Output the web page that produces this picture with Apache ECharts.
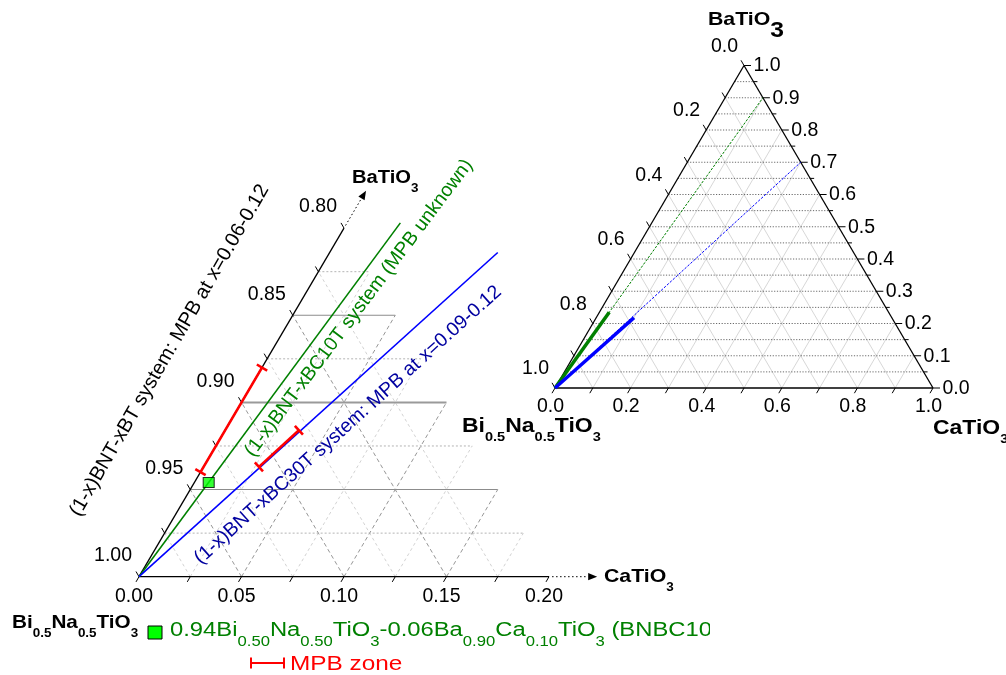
<!DOCTYPE html>
<html>
<head>
<meta charset="utf-8">
<title>BNT-BT-CT ternary</title>
<script src="https://cdn.jsdelivr.net/npm/echarts@6/dist/echarts.min.js"></script>
<style>
html,body{margin:0;padding:0;background:#fff;}
#chart{width:1006px;height:675px;}
</style>
</head>
<body>
<div id="chart"></div>
<script>
// ===== DATA: compositions are [CaTiO3, BaTiO3] mole fractions (BNT = 1 - sum) =====
// --- zoomed BNT-rich corner (left) ---
const zoomCaTicks   = [0.00, 0.05, 0.10, 0.15, 0.20];
const zoomCaLabels  = ['0.00', '0.05', '0.10', '0.15', '0.20'];
const zoomCaMinor   = [0.025, 0.075, 0.125, 0.175];
const zoomBntTicks  = [1.00, 0.95, 0.90, 0.85, 0.80];
const zoomBntLabels = ['1.00', '0.95', '0.90', '0.85', '0.80'];
const zoomBntMinor  = [0.975, 0.925, 0.875, 0.825];
const zoomSolidLevels  = [0.05, 0.15];
const zoomHeavyLevels  = [0.10];
const zoomDottedLevels = [0.025, 0.075, 0.125, 0.175];
const zoomDiagMajor    = [0.05, 0.10, 0.15];
const zoomDiagMinor    = [0.025, 0.075, 0.125, 0.175];
const zoomLimit = 0.20;
const bc10tLineZoom = [[0.000, 0.000], [0.026, 0.203]];
const bc30tLineZoom = [[0.000, 0.000], [0.082, 0.186]];
const btMpbZone     = [[0.000, 0.060], [0.000, 0.120]];   // x = 0.06-0.12
const bc30tMpbZone  = [[0.027, 0.063], [0.036, 0.084]];   // x = 0.09-0.12
const bnbc10tPoint  = [0.007, 0.054];                     // 0.94BNT-0.06BC10T
const caArrow = [[0.2015, 0.0], [0.2235, 0.0]];
const baArrow = [[0.0, 0.2015], [0.0, 0.2215]];

// --- full ternary (right) ---
const fullTenths      = [0.0, 0.1, 0.2, 0.3, 0.4, 0.5, 0.6, 0.7, 0.8, 0.9, 1.0];
const fullTenthLabels = ['0.0', '0.1', '0.2', '0.3', '0.4', '0.5', '0.6', '0.7', '0.8', '0.9', '1.0'];
const fullFifths      = [0.0, 0.2, 0.4, 0.6, 0.8, 1.0];
const fullFifthLabels = ['0.0', '0.2', '0.4', '0.6', '0.8', '1.0'];
const fullOddTwentieths = [0.05, 0.15, 0.25, 0.35, 0.45, 0.55, 0.65, 0.75, 0.85, 0.95];
const fullInnerTenths = [0.1, 0.2, 0.3, 0.4, 0.5, 0.6, 0.7, 0.8, 0.9];
const fullHorizLevels = [0.05, 0.1, 0.15, 0.2, 0.25, 0.3, 0.35, 0.4, 0.45, 0.5, 0.55, 0.6, 0.65, 0.7, 0.75, 0.8, 0.85, 0.9, 0.95];
const bc10tFullDashed = [[0.0, 0.0], [0.10, 0.90]];
const bc30tFullDashed = [[0.0, 0.0], [0.30, 0.70]];
const bc10tFullThick  = [[0.0, 0.0], [0.026, 0.235]];
const bc30tFullThick  = [[0.0, 0.0], [0.100, 0.218]];

// ===== helpers =====
const FONT = '"Liberation Sans", Arial, Helvetica, sans-serif';
const tern = p => [p[0] + p[1] / 2, p[1]];   // [CaTiO3, BaTiO3] -> cartesian (X, Y)

function segSeries(grid, list, style, z) {
  return {
    type: 'custom', coordinateSystem: 'cartesian2d', xAxisIndex: grid, yAxisIndex: grid,
    silent: true, clip: false, z: z || 2, animation: false,
    encode: { x: 0, y: 1 },
    data: list.map(s => tern(s[0]).concat(tern(s[1]))),
    renderItem(params, api) {
      const a = api.coord([api.value(0), api.value(1)]);
      const b = api.coord([api.value(2), api.value(3)]);
      return { type: 'line', shape: { x1: a[0], y1: a[1], x2: b[0], y2: b[1] },
               style: Object.assign({ stroke: '#000', lineWidth: 1, fill: null }, style) };
    }
  };
}
function tickSeries(grid, pts, dir, len, style) {
  return {
    type: 'custom', coordinateSystem: 'cartesian2d', xAxisIndex: grid, yAxisIndex: grid,
    silent: true, clip: false, z: 3, animation: false, encode: { x: 0, y: 1 },
    data: pts.map(tern),
    renderItem(params, api) {
      const a = api.coord([api.value(0), api.value(1)]);
      return { type: 'line', shape: { x1: a[0], y1: a[1], x2: a[0] + dir[0] * len, y2: a[1] + dir[1] * len },
               style: Object.assign({ stroke: '#000', lineWidth: 1, fill: null }, style) };
    }
  };
}
function labelSeries(grid, pts, texts, dx, dy, align, size) {
  return {
    type: 'custom', coordinateSystem: 'cartesian2d', xAxisIndex: grid, yAxisIndex: grid,
    silent: true, clip: false, z: 5, animation: false, encode: { x: 0, y: 1 },
    data: pts.map((p, i) => tern(p).concat([i])),
    renderItem(params, api) {
      const a = api.coord([api.value(0), api.value(1)]);
      return { type: 'text', x: a[0] + dx, y: a[1] + dy,
               style: { text: texts[api.value(2)], fill: '#000', fontSize: size, fontFamily: FONT,
                        align: align, verticalAlign: 'middle' } };
    }
  };
}
function barSeries(grid, list, color) {   // MPB segment with perpendicular end caps
  return {
    type: 'custom', coordinateSystem: 'cartesian2d', xAxisIndex: grid, yAxisIndex: grid,
    silent: true, clip: false, z: 8, animation: false, encode: { x: 0, y: 1 },
    data: list.map(s => tern(s[0]).concat(tern(s[1]))),
    renderItem(params, api) {
      const a = api.coord([api.value(0), api.value(1)]);
      const b = api.coord([api.value(2), api.value(3)]);
      const L = Math.hypot(b[0] - a[0], b[1] - a[1]);
      const px = -(b[1] - a[1]) / L * 6, py = (b[0] - a[0]) / L * 6;
      const st = { stroke: color, lineWidth: 2.6, fill: null };
      return { type: 'group', children: [
        { type: 'line', shape: { x1: a[0], y1: a[1], x2: b[0], y2: b[1] }, style: st },
        { type: 'line', shape: { x1: a[0] - px, y1: a[1] - py, x2: a[0] + px, y2: a[1] + py }, style: st },
        { type: 'line', shape: { x1: b[0] - px, y1: b[1] - py, x2: b[0] + px, y2: b[1] + py }, style: st }
      ] };
    }
  };
}
function arrowSeries(grid, list) {
  return {
    type: 'custom', coordinateSystem: 'cartesian2d', xAxisIndex: grid, yAxisIndex: grid,
    silent: true, clip: false, z: 6, animation: false, encode: { x: 0, y: 1 },
    data: list.map(s => tern(s[0]).concat(tern(s[1]))),
    renderItem(params, api) {
      const a = api.coord([api.value(0), api.value(1)]);
      const b = api.coord([api.value(2), api.value(3)]);
      const L = Math.hypot(b[0] - a[0], b[1] - a[1]);
      const ux = (b[0] - a[0]) / L, uy = (b[1] - a[1]) / L;
      const h = 9, w = 3.6;
      const bx = b[0] - ux * h, by = b[1] - uy * h;
      return { type: 'group', children: [
        { type: 'line', shape: { x1: a[0], y1: a[1], x2: bx, y2: by },
          style: { stroke: '#000', lineWidth: 1, lineDash: [1.5, 2.5], fill: null } },
        { type: 'polygon', shape: { points: [[b[0], b[1]], [bx - uy * w, by + ux * w], [bx + uy * w, by - ux * w]] },
          style: { fill: '#000' } }
      ] };
    }
  };
}
function chem(parts) {   // alternating main / subscript pieces
  return parts.map((p, i) => (i % 2 === 0 ? '{m|' : '{s|') + p + '}').join('');
}
function richStyle(mainSize, subSize, subDrop, color, bold, mainLH) {
  const w = bold ? 'bold' : 'normal';
  return {
    m: { fontSize: mainSize, fontWeight: w, fontFamily: FONT, fill: color, lineHeight: mainLH, verticalAlign: 'top' },
    s: { fontSize: subSize, fontWeight: w, fontFamily: FONT, fill: color, lineHeight: subSize + 2,
         verticalAlign: 'top', padding: [mainLH / 2 + subDrop - subSize / 2, 0, 0, 0] }
  };
}
function chemText(x, yCenter, parts, mainSize, subSize, subDrop, color, bold, sx) {
  const lh = Math.round(mainSize + 4);
  return { type: 'text', x: x, y: yCenter - lh / 2, scaleX: sx || 1, z: 20, silent: true,
           style: { text: chem(parts), rich: richStyle(mainSize, subSize, subDrop, color, bold, lh),
                    align: 'left', verticalAlign: 'top' } };
}
function rotText(cx, cy, deg, text, color, size) {
  return { type: 'text', x: cx, y: cy, rotation: deg * Math.PI / 180, z: 20, silent: true,
           style: { text: text, fill: color, fontSize: size, fontFamily: FONT, align: 'center', verticalAlign: 'middle' } };
}

// ===== derived geometry lists =====
const Z = zoomLimit;
const zHorizSolid  = zoomSolidLevels.map(v => [[0, v], [Z - v, v]]);
const zHorizHeavy  = zoomHeavyLevels.map(v => [[0, v], [Z - v, v]]);
const zHorizDotted = zoomDottedLevels.map(v => [[0, v], [Z - v, v]]);
const zDiagMajor = zoomDiagMajor.map(v => [[v, 0], [v, Z - v]]).concat(zoomDiagMajor.map(v => [[v, 0], [0, v]]));
const zDiagMinor = zoomDiagMinor.map(v => [[v, 0], [v, Z - v]]).concat(zoomDiagMinor.map(v => [[v, 0], [0, v]]));
const zEdges = [[[0, 0], [Z, 0]], [[0, 0], [0, Z]]];

const fHoriz = fullHorizLevels.map(v => [[0, v], [1 - v, v]]);
const fDiag = fullInnerTenths.map(v => [[v, 0], [v, 1 - v]]).concat(fullInnerTenths.map(v => [[v, 0], [0, v]]));
const fEdges = [[[0, 0], [1, 0]], [[1, 0], [0, 1]], [[0, 1], [0, 0]]];

const DL = [-0.5, 0.866];   // down-left (parallel to left edge, outward of bottom)
const UL = [-0.5, -0.866];  // up-left (parallel to right edge, outward of left)
const RT = [1, 0];

const series = [
  // ---- zoom plot grid ----
  segSeries(0, zDiagMinor, { stroke: '#c6c6c6', lineWidth: 0.8, lineDash: [3, 3] }, 1),
  segSeries(0, zDiagMajor, { stroke: '#8a8a8a', lineWidth: 0.9, lineDash: [4, 3] }, 1),
  segSeries(0, zHorizDotted, { stroke: '#b4b4b4', lineWidth: 1, lineDash: [2, 2] }, 1),
  segSeries(0, zHorizSolid, { stroke: '#8c8c8c', lineWidth: 1.1 }, 1),
  segSeries(0, zHorizHeavy, { stroke: '#9a9a9a', lineWidth: 2 }, 1),
  segSeries(0, zEdges, { stroke: '#000', lineWidth: 1.3 }, 3),
  tickSeries(0, zoomCaTicks.concat(zoomCaMinor).map(v => [v, 0]), DL, 6, {}),
  tickSeries(0, zoomBntTicks.concat(zoomBntMinor).map(v => [0, 1 - v]), UL, 6, {}),
  labelSeries(0, zoomCaTicks.map(v => [v, 0]), zoomCaLabels, -5, 20, 'center', 19.5),
  labelSeries(0, zoomBntTicks.map(v => [0, 1 - v]), zoomBntLabels, -7, -21, 'right', 19.5),
  arrowSeries(0, [caArrow, baArrow]),
  // ---- zoom plot data ----
  segSeries(0, [bc10tLineZoom], { stroke: '#008000', lineWidth: 1.6 }, 6),
  segSeries(0, [bc30tLineZoom], { stroke: '#0000ff', lineWidth: 1.6 }, 6),
  barSeries(0, [btMpbZone, bc30tMpbZone], '#ff0000'),
  {
    type: 'scatter', xAxisIndex: 0, yAxisIndex: 0, z: 10, silent: true, animation: false,
    symbol: 'rect', symbolSize: [11, 10],
    itemStyle: { color: '#00ff00', borderColor: '#000', borderWidth: 1 },
    data: [tern(bnbc10tPoint)]
  },
  // ---- full ternary grid ----
  segSeries(1, fDiag, { stroke: '#cdcdcd', lineWidth: 0.8 }, 1),
  segSeries(1, fHoriz, { stroke: '#5a5a5a', lineWidth: 0.9, lineDash: [1.2, 1.6] }, 1),
  segSeries(1, fEdges, { stroke: '#000', lineWidth: 1.3 }, 3),
  tickSeries(1, fullTenths.map(v => [v, 0]), DL, 6, {}),
  tickSeries(1, fullTenths.map(v => [0, 1 - v]), UL, 6, {}),
  tickSeries(1, fullTenths.map(v => [1 - v, v]), RT, 7, {}),
  tickSeries(1, fullOddTwentieths.map(v => [1 - v, v]), RT, 4, {}),
  labelSeries(1, fullFifths.map(v => [v, 0]), fullFifthLabels, -4.5, 19, 'center', 19.5),
  labelSeries(1, fullFifths.map(v => [0, 1 - v]), fullFifthLabels, -6, -19, 'right', 19.5),
  labelSeries(1, fullTenths.map(v => [1 - v, v]), fullTenthLabels, 9.5, 0.5, 'left', 19.5),
  // ---- full ternary data ----
  segSeries(1, [bc10tFullDashed], { stroke: '#008000', lineWidth: 1, lineDash: [2.5, 1.5] }, 5),
  segSeries(1, [bc30tFullDashed], { stroke: '#0000ff', lineWidth: 1, lineDash: [2.5, 1.5] }, 5),
  segSeries(1, [bc10tFullThick], { stroke: '#008000', lineWidth: 3.5 }, 6),
  segSeries(1, [bc30tFullThick], { stroke: '#0000ff', lineWidth: 3.5 }, 6)
];

const graphic = [
  // corner / axis titles
  chemText(12, 625, ['Bi', '0.5', 'Na', '0.5', 'TiO', '3'], 18.5, 12, 9, '#000', true, 1.12),
  chemText(352, 180, ['BaTiO', '3'], 18, 12, 9, '#000', true, 1.12),
  chemText(604, 579, ['CaTiO', '3'], 19, 12, 9, '#000', true, 1.12),
  chemText(708, 22, ['BaTiO', '3'], 19, 22, 8.5, '#000', true, 1.12),
  chemText(462, 428, ['Bi', '0.5', 'Na', '0.5', 'TiO', '3'], 20.5, 13, 9.3, '#000', true, 1.12),
  chemText(933, 430, ['CaTiO', '3'], 20.5, 13, 9.3, '#000', true, 1.12),
  // rotated system labels
  rotText(169.5, 350.5, 60, '(1-x)BNT-xBT system: MPB at x=0.06-0.12', '#000', 20),
  rotText(359, 308, 53.1, '(1-x)BNT-xBC10T system (MPB unknown)', '#008000', 19.5),
  rotText(348, 425, 42, '(1-x)BNT-xBC30T system: MPB at x=0.09-0.12', '#0000a0', 19.5),
  // legend
  { type: 'rect', shape: { x: 148, y: 626, width: 14, height: 13 }, z: 20, silent: true,
    style: { fill: '#00ff00', stroke: '#000', lineWidth: 1 } },
  chemText(170, 632.5, ['0.94Bi', '0.50', 'Na', '0.50', 'TiO', '3', '-0.06Ba', '0.90', 'Ca', '0.10', 'TiO', '3', ' (BNBC10T)'],
           20, 14, 10, '#008000', false, 1.19),
  { type: 'rect', shape: { x: 710, y: 610, width: 296, height: 45 }, z: 30, silent: true, style: { fill: '#fff' } },
  { type: 'group', z: 20, silent: true, children: [
    { type: 'line', shape: { x1: 251, y1: 663, x2: 284, y2: 663 }, style: { stroke: '#ff0000', lineWidth: 2 } },
    { type: 'line', shape: { x1: 251, y1: 657.5, x2: 251, y2: 668.5 }, style: { stroke: '#ff0000', lineWidth: 2 } },
    { type: 'line', shape: { x1: 284, y1: 657.5, x2: 284, y2: 668.5 }, style: { stroke: '#ff0000', lineWidth: 2 } }
  ] },
  { type: 'text', x: 290, y: 664, scaleX: 1.16, z: 20, silent: true,
    style: { text: 'MPB zone', fill: '#ff0000', fontSize: 21, fontFamily: FONT, align: 'left', verticalAlign: 'middle' } }
];

const chart = echarts.init(document.getElementById('chart'), null, { renderer: 'canvas', width: 1006, height: 675 });
chart.setOption({
  backgroundColor: '#ffffff',
  animation: false,
  grid: [
    { left: 139, top: 228.1, width: 410, height: 348.6, show: false },
    { left: 555, top: 65.5, width: 378, height: 322.5, show: false }
  ],
  xAxis: [
    { gridIndex: 0, type: 'value', min: 0, max: zoomLimit, show: false },
    { gridIndex: 1, type: 'value', min: 0, max: 1, show: false }
  ],
  yAxis: [
    { gridIndex: 0, type: 'value', min: 0, max: zoomLimit, show: false },
    { gridIndex: 1, type: 'value', min: 0, max: 1, show: false }
  ],
  series: series,
  graphic: graphic
});
</script>
</body>
</html>
